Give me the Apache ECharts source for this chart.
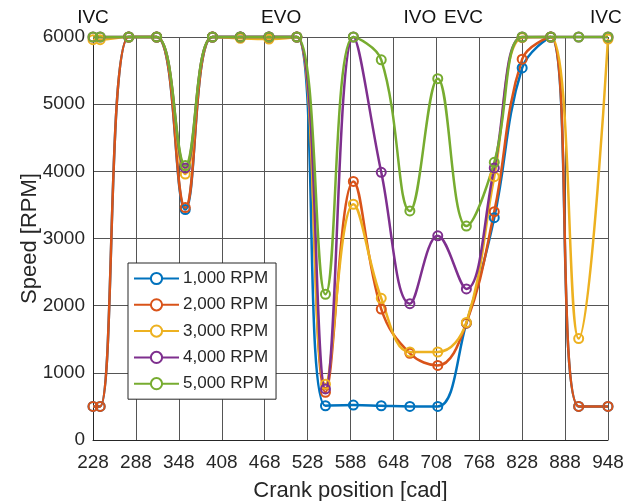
<!DOCTYPE html>
<html><head><meta charset="utf-8">
<script src="https://cdn.jsdelivr.net/npm/echarts@6/dist/echarts.min.js"></script>
<style>html,body{margin:0;padding:0;background:#fff}#c{width:636px;height:501px}</style>
</head><body><div id="c"></div>
<script>
var crank = [228, 238, 278, 317, 357, 395, 434, 474, 513, 553, 592, 631, 671, 710, 750, 789, 828, 868, 907, 948];
var rpm1000 = [500,500,6000,6000,3430,6000,6000,6000,6000,510,520,510,500,500,1740,3310,5540,6000,500,500];
var rpm2000 = [500,500,6000,6000,3460,6000,6000,6000,6000,710,3850,1950,1290,1110,1740,3400,5670,6000,500,500];
var rpm3000 = [5960,5960,6000,6000,3960,6000,5980,5970,6000,830,3510,2110,1310,1310,1750,3920,5990,6000,1510,5970];
var rpm4000 = [6000,6000,6000,6000,4050,6000,6000,6000,6000,760,6000,3985,2030,3040,2250,4050,6000,6000,6000,6000];
var rpm5000 = [6000,6000,6000,6000,4085,6000,6000,6000,6000,2170,6000,5660,3410,5380,3185,4135,6000,6000,6000,6000];
var seriesNames = ['1,000 RPM','2,000 RPM','3,000 RPM','4,000 RPM','5,000 RPM'];
var eventNames = ['IVC','EVO','IVO','EVC','IVC'];
var eventPos = [228, 491, 685, 746, 945];

var colors = ['#0072BD','#D95319','#EDB120','#7E2F8E','#77AC30'];
var all = [rpm1000, rpm2000, rpm3000, rpm4000, rpm5000];
var font = 'Liberation Sans, Arial, sans-serif';
var chart = echarts.init(document.getElementById('c'));
var series = all.map(function(vals, i){
  return {
    name: seriesNames[i], type: 'line', smooth: 0.4,
    data: crank.map(function(x, j){ return [x, vals[j]]; }),
    symbol: 'circle', symbolSize: 9, showSymbol: true,
    lineStyle: {width: 2.5, color: colors[i]},
    itemStyle: {color: 'rgba(255,255,255,0)', borderColor: colors[i], borderWidth: 2},
    color: colors[i], clip: false, animation: false
  };
});
chart.setOption({
  animation: false,
  grid: {left: 93, right: 28, top: 37, bottom: 61, outerBoundsMode: 'none', containLabel: false},
  legend: {
    orient: 'vertical', left: 128, top: 263, padding: [7, 8, 7, 5],
    itemWidth: 45, itemHeight: 14, itemGap: 9.3,
    backgroundColor: '#fff', borderColor: '#262626', borderWidth: 1,
    textStyle: {fontFamily: font, fontSize: 17, color: '#262626', padding: [0,0,0,-1]},
    data: seriesNames.map(function(n, i){ return {name: n, itemStyle: {color: '#fff', borderColor: colors[i], borderWidth: 2}}; })
  },
  xAxis: [{
    type: 'value', min: 228, max: 948, interval: 60,
    name: 'Crank position [cad]', nameLocation: 'middle', nameGap: 40, nameMoveOverlap: false,
    nameTextStyle: {fontFamily: font, fontSize: 22, color: '#262626'},
    axisLine: {lineStyle: {color: '#262626', width: 1}},
    axisTick: {show: false},
    axisLabel: {fontFamily: font, fontSize: 19, color: '#262626', margin: 13},
    splitLine: {show: true, lineStyle: {color: '#555', width: 1}}
  }, {
    type: 'value', min: 228, max: 948, position: 'top',
    axisLine: {show: false}, axisTick: {show: false}, splitLine: {show: false},
    axisLabel: {
      customValues: eventPos, fontFamily: font, fontSize: 19, color: '#111', margin: 10,
      formatter: function(v){ var k = eventPos.indexOf(v); return k >= 0 ? eventNames[k] : ''; }
    }
  }],
  yAxis: {
    type: 'value', min: 0, max: 6000, interval: 1000,
    name: 'Speed [RPM]', nameLocation: 'middle', nameGap: 52, nameRotate: 90, nameMoveOverlap: false,
    nameTextStyle: {fontFamily: font, fontSize: 22, color: '#262626'},
    axisLine: {show: true, lineStyle: {color: '#262626', width: 1}},
    axisTick: {show: false},
    axisLabel: {fontFamily: font, fontSize: 19, color: '#262626', margin: 8, formatter: function(v){ return String(v); }},
    splitLine: {show: true, lineStyle: {color: '#555', width: 1}}
  },
  series: series
});
</script></body></html>
